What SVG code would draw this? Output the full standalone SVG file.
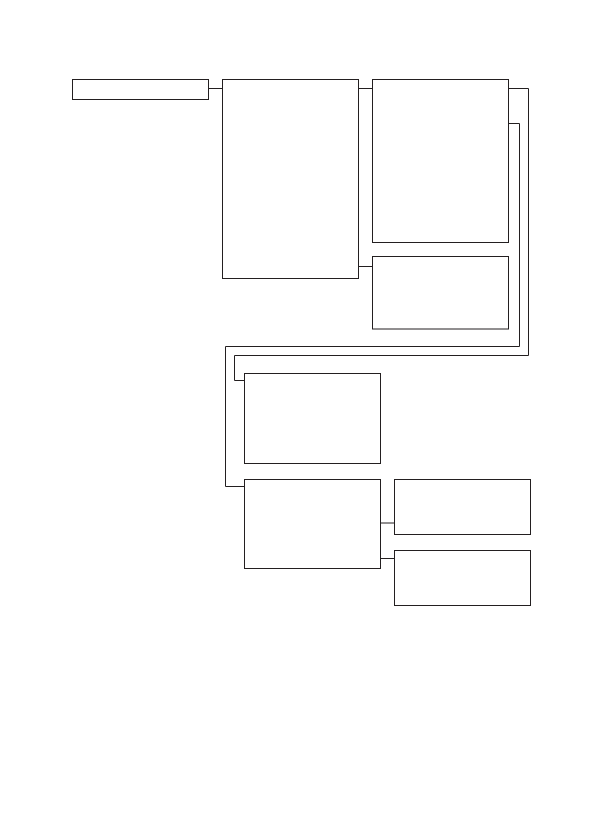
<svg xmlns="http://www.w3.org/2000/svg" width="595" height="839" viewBox="0 0 595 839">
<style>
.n{fill:#fff;stroke:#231f20;stroke-width:1}
.c{fill:none;stroke:#231f20;stroke-width:1}
</style>
<rect width="595" height="839" fill="#fff"/>
<g id="connectors">
<path class="c" d="M208.5 88.5H222.5"/>
<path class="c" d="M358.5 88.5H372.5"/>
<path class="c" d="M358.5 266.5H372.5"/>
<path class="c" d="M508.5 88.5H528.5V355.5H234.5V380.5H244.5"/>
<path class="c" d="M508.5 123.5H519.5V346.5H225.5V486.5H244.5"/>
<path class="c" d="M380.5 523H394.5"/>
<path class="c" d="M380.5 558.5H394.5"/>
</g>
<g id="n1"><rect class="n" x="72.5" y="79.5" width="136" height="20"/></g>
<g id="n2"><rect class="n" x="222.5" y="79.5" width="136" height="199"/></g>
<g id="n3"><rect class="n" x="372.5" y="79.5" width="136" height="163"/></g>
<g id="n4"><rect class="n" x="372.5" y="256.5" width="136" height="72.5"/></g>
<g id="n5"><rect class="n" x="244.5" y="373.5" width="136" height="90"/></g>
<g id="n6"><rect class="n" x="244.5" y="479.5" width="136" height="89"/></g>
<g id="n7"><rect class="n" x="394.5" y="479.5" width="136" height="55"/></g>
<g id="n8"><rect class="n" x="394.5" y="550.5" width="136" height="55"/></g>
</svg>
